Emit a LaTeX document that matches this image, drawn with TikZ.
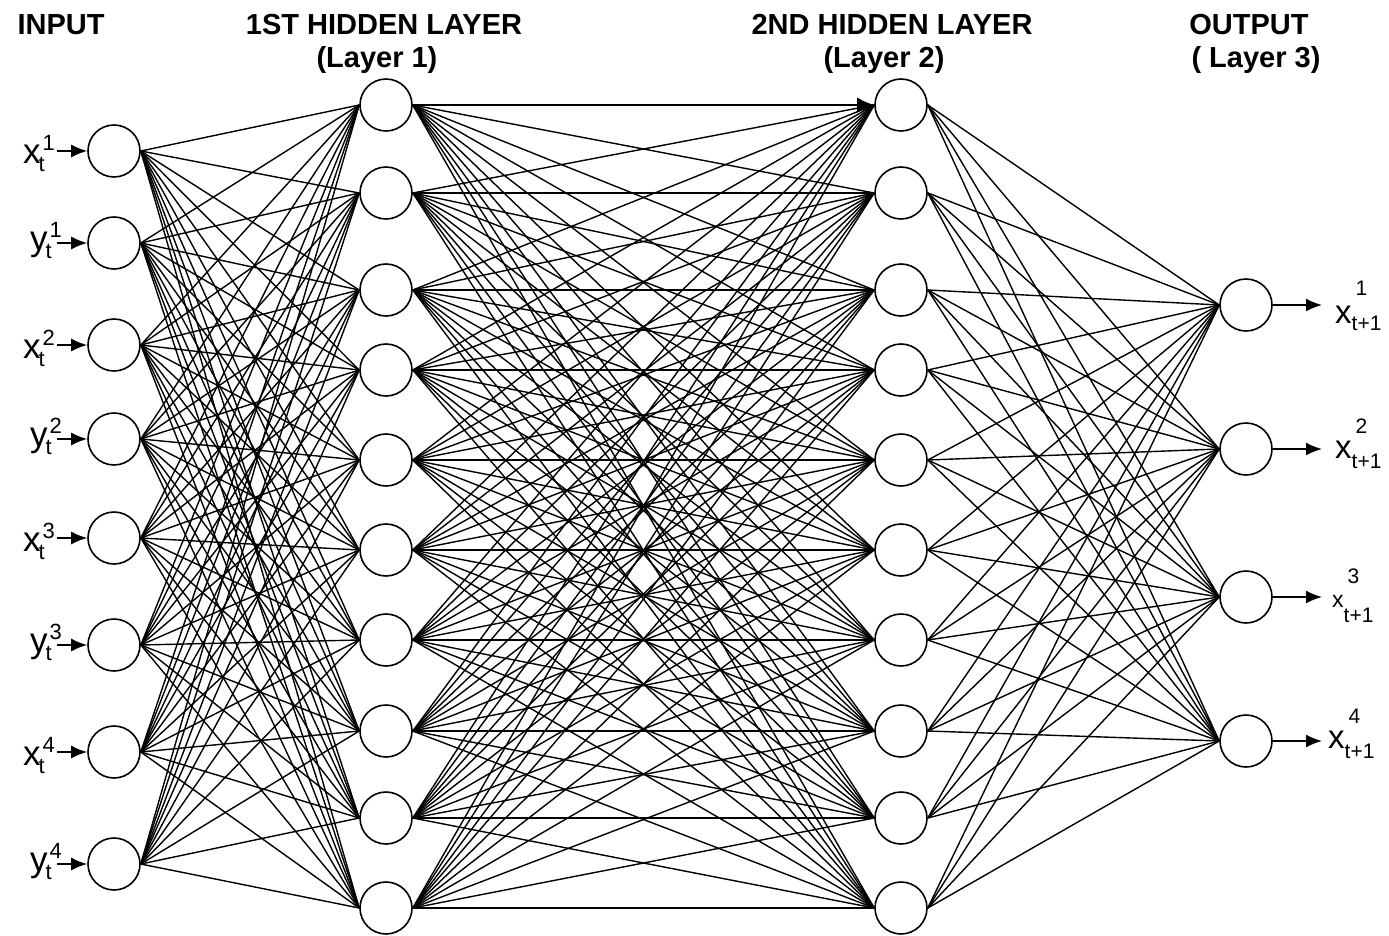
\documentclass[tikz,border=0pt]{standalone}
\usepackage{fontspec}
\setmainfont{Liberation Sans}
\usetikzlibrary{arrows.meta,backgrounds}

% input label: letter with superscript index and subscript t
\newcommand\inlab[2]{{\fontsize{35}{35}\selectfont #1}\kern-2pt\rlap{\raisebox{13pt}{\fontsize{22}{22}\selectfont\kern4pt #2}}\raisebox{-8pt}{\fontsize{22}{22}\selectfont t}}
% output label: x size, superscript, drop of t+1, rise of superscript
\newcommand\outlab[4]{{\fontsize{#1}{#1}\selectfont x}\raisebox{-#3}{\fontsize{21}{21}\selectfont\rlap{\kern4pt\raisebox{#4}{#2}}t+1}}

\begin{document}
\begin{tikzpicture}[x=1pt,y=-1pt,
  neuron/.style={circle,draw,line width=1.6pt,fill=white,minimum size=52pt,inner sep=0pt},
  link/.style={line width=1.4pt},
  feed/.style={line width=1.8pt,-{Latex[length=16pt,width=13pt]}},
  head/.style={font=\fontsize{29}{29}\selectfont\bfseries,inner sep=0pt,anchor=base},
  lab/.style={inner sep=0pt}]
\useasboundingbox (0,0) rectangle (1389,936);

% headings
\node[head] (hin) at (61,35) {INPUT};
\node[head] (hh1) at (384,35) {1ST HIDDEN LAYER};
\node[head] (hl1) at (377,68) {(Layer 1)};
\node[head] (hh2) at (892,35) {2ND HIDDEN LAYER};
\node[head] (hl2) at (884,68) {(Layer 2)};
\node[head] (hout) at (1249,35) {OUTPUT};
\node[head] (hl3) at (1256,68) {( Layer 3)};

% neurons
\foreach \y [count=\i] in {151,243,345,439,538,645,752,864}
  \node[neuron] (i\i) at (114,\y) {};
\foreach \y [count=\i] in {105,193,290,370,460,550,640,731,818,908} {
  \node[neuron] (a\i) at (386,\y) {};
  \node[neuron] (b\i) at (901,\y) {};
}
\foreach \y [count=\i] in {305,449,597,741}
  \node[neuron] (o\i) at (1246,\y) {};

% white sheet and weights, kept behind the neurons
\begin{pgfonlayer}{background}
\fill[white] (0,0) rectangle (1389,936);
\foreach \i in {1,...,8}
  \foreach \j in {1,...,10}
    \draw[link] (i\i.east) -- (a\j.west);
\foreach \i in {1,...,10}
  \foreach \j in {1,...,10}
    \draw[link] (a\i.east) -- (b\j.west);
\foreach \i in {1,...,10}
  \foreach \j in {1,...,4}
    \draw[link] (b\i.east) -- (o\j.west);
\draw[link,-{Latex[length=17pt,width=15pt]}] (a1.east) -- (b1.west);
\end{pgfonlayer}

% input labels and arrows
\node[lab,anchor=base east] (l1) at (45,164) {\inlab{x}{1}};
\node[lab,anchor=base east] (l2) at (52,250) {\inlab{y}{1}};
\node[lab,anchor=base east] (l3) at (45,358) {\inlab{x}{2}};
\node[lab,anchor=base east] (l4) at (52,446) {\inlab{y}{2}};
\node[lab,anchor=base east] (l5) at (45,551) {\inlab{x}{3}};
\node[lab,anchor=base east] (l6) at (52,652) {\inlab{y}{3}};
\node[lab,anchor=base east] (l7) at (45,765) {\inlab{x}{4}};
\node[lab,anchor=base east] (l8) at (52,871) {\inlab{y}{4}};
\foreach \y [count=\i] in {151,243,345,439,538,645,752,864} {
  \coordinate (s\i) at (57,\y);
  \draw[feed] (s\i) -- (i\i.west);
}

% output arrows and labels
\foreach \y [count=\i] in {305,449,597,741} {
  \coordinate (e\i) at (1322,\y);
  \draw[feed] (o\i.east) -- (e\i);
}
\node[lab,anchor=base west] (r1) at (1335,323) {\outlab{33}{1}{7pt}{35pt}};
\node[lab,anchor=base west] (r2) at (1335,458) {\outlab{33}{2}{10pt}{35pt}};
\node[lab,anchor=base west] (r3) at (1332,607) {\outlab{23}{3}{15pt}{39pt}};
\node[lab,anchor=base west] (r4) at (1328,748) {\outlab{33}{4}{10pt}{35pt}};
\end{tikzpicture}
\end{document}
